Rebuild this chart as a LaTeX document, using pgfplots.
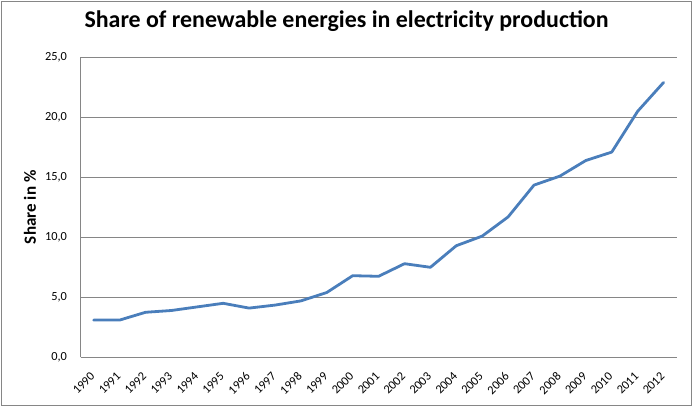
\documentclass[border=0pt]{standalone}
\usepackage{fontspec}
\setmainfont{Carlito}
\usepackage{pgfplots}
\pgfplotsset{compat=1.18}
\definecolor{gridgray}{HTML}{868686}
\definecolor{lineblue}{HTML}{4A7EBB}
\begin{document}
\begin{tikzpicture}
\useasboundingbox (0,0) rectangle (693bp,409bp);
\draw[gridgray, line width=0.9bp] (1.5bp,4bp) rectangle (691bp,407.5bp);
\begin{axis}[
  at={(80.7bp,51.7bp)}, anchor=south west,
  width=595.8bp, height=300bp, scale only axis,
  xmin=-0.5, xmax=22.5, ymin=0, ymax=25,
  xtick={0,...,22},
  xticklabels={1990,1991,1992,1993,1994,1995,1996,1997,1998,1999,2000,2001,2002,2003,2004,2005,2006,2007,2008,2009,2010,2011,2012},
  ytick={0,5,10,15,20,25},
  axis lines*=left,
  axis line style={gridgray, line width=0.9bp},
  ymajorgrids, grid style={gridgray, line width=0.9bp},
  major tick length=0pt,
  tick style={draw=none},
  /pgf/number format/assume math mode=true,
  yticklabel={\pgfmathprintnumber[fixed,fixed zerofill,precision=1,use comma]{\tick}},
  yticklabel style={font=\fontsize{12.4}{14}\selectfont, anchor=east, inner sep=0pt, xshift=-13.5bp},
  xticklabel style={font=\fontsize{12.4}{14}\selectfont, inner sep=0pt, xshift=-1bp, yshift=-17bp, rotate=45, anchor=east},
  title={Share of renewable energies in electricity production},
  title style={font=\fontsize{24}{28}\selectfont\bfseries, at={(rel axis cs:0.4463,1.08)}, anchor=base, inner sep=0pt},
  ylabel={Share in \%},
  ylabel style={font=\fontsize{17.1}{20}\selectfont\bfseries, at={(rel axis cs:-0.0851,0.5)}, anchor=center, inner sep=0pt},
  clip=false,
]
\addplot[lineblue, line width=2.8bp, line join=round, line cap=round] coordinates {
(0,3.1) (1,3.1) (2,3.75) (3,3.9) (4,4.2) (5,4.5) (6,4.1) (7,4.35) (8,4.7) (9,5.4)
(10,6.8) (11,6.75) (12,7.8) (13,7.5) (14,9.3) (15,10.1) (16,11.7) (17,14.35)
(18,15.1) (19,16.4) (20,17.1) (21,20.5) (22,22.9)
};
\end{axis}
\end{tikzpicture}
\end{document}
